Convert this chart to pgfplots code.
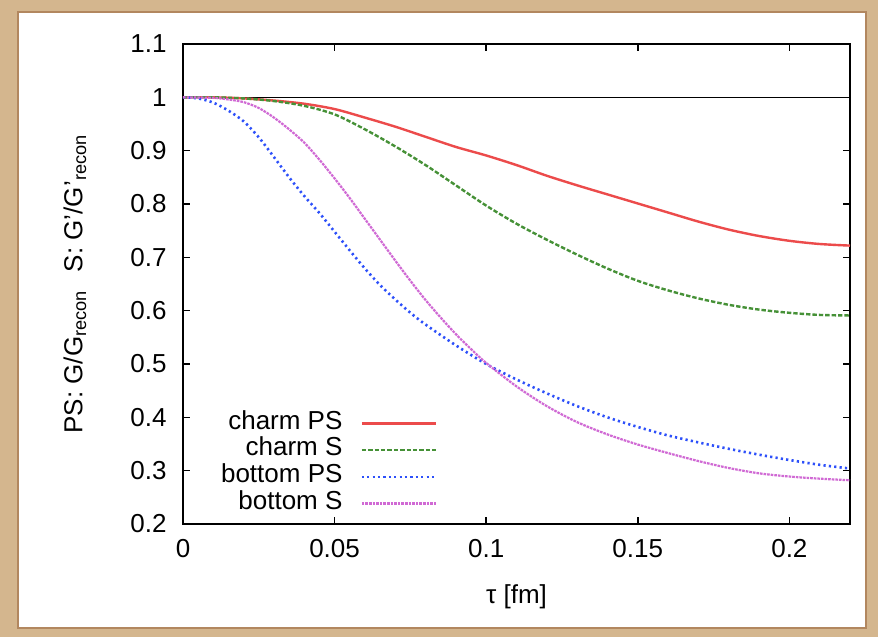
\documentclass[border=0pt]{standalone}
\usepackage{fontspec}
\setmainfont{Liberation Sans}
\usepackage{pgfplots}
\pgfplotsset{compat=1.18}
\definecolor{parch}{RGB}{212,182,142}
\definecolor{parchdark}{RGB}{178,135,95}
\definecolor{cPS}{RGB}{236,75,75}
\definecolor{cS}{RGB}{70,145,55}
\definecolor{bPS}{RGB}{45,80,250}
\definecolor{bS}{RGB}{208,105,212}
\begin{document}
\fontsize{13}{15}\selectfont
\begin{tikzpicture}
% parchment frame (1 px = 0.5pt, axis origin at px (183,524))
\fill[parch] (-91.5pt,-56.5pt) rectangle (347.5pt,262pt);
\fill[white] (-82.5pt,-52pt) rectangle (341.5pt,256pt);
\draw[parchdark,line width=1.2pt] (-82.5pt,-52pt) rectangle (341.5pt,256pt);
\begin{axis}[
  at={(0,0)}, anchor=south west,
  scale only axis,
  width=333.5pt, height=240pt,
  xmin=0, xmax=0.22, ymin=0.2, ymax=1.1,
  xtick={0,0.05,0.1,0.15,0.2},
  ytick={0.2,0.3,0.4,0.5,0.6,0.7,0.8,0.9,1,1.1},
  xticklabels={0,0.05,0.1,0.15,0.2},
  yticklabels={0.2,0.3,0.4,0.5,0.6,0.7,0.8,0.9,1,1.1},
  /pgf/number format/assume math mode=true,
  tick align=inside,
  major tick length=3.5pt,
  tick style={black, line width=0.8pt},
  axis line style={black, line width=0.9pt},
  xticklabel style={yshift=-3.2pt, font=\fontsize{13}{15}\selectfont},
  yticklabel style={xshift=-3.7pt, font=\fontsize{13}{15}\selectfont},
  xlabel={τ [fm]},
  ylabel={PS: G/G\textsubscript{recon}\hspace{0.7em}S: G’/G’\textsubscript{recon}},
  xlabel style={at={(axis description cs:0.5,-0.152)}, anchor=center, font=\fontsize{13}{15}\selectfont},
  ylabel style={at={(axis description cs:-0.162,0.5)}, anchor=center, font=\fontsize{13}{15}\selectfont},
  legend plot pos=right,
  legend cell align=right,
  legend image code/.code={\draw[#1] (0pt,0pt) -- (37pt,0pt);},
  legend style={draw=none, fill=none, inner sep=0pt, outer sep=0pt,
    at={(axis cs:0.0838,0.4135)}, anchor=north east,
    font=\fontsize{13}{15}\selectfont,
    nodes={inner sep=1pt, text height=8.5pt, text depth=2.85pt},
    cells={anchor=east},
    row sep=0pt,
    /tikz/every odd column/.append style={column sep=8pt}},
]
\addplot[black, line width=0.8pt, forget plot] coordinates {(0,1) (0.22,1)};
\addplot[cPS, line width=1.2pt, smooth] coordinates {
(0,1.000) (0.01,1.000) (0.02,0.998) (0.03,0.994) (0.04,0.988) (0.05,0.978)
(0.06,0.962) (0.07,0.945) (0.08,0.926) (0.09,0.907) (0.10,0.891) (0.11,0.873)
(0.12,0.853) (0.13,0.835) (0.14,0.818) (0.15,0.801) (0.16,0.784) (0.17,0.767)
(0.18,0.752) (0.19,0.740) (0.20,0.731) (0.21,0.725) (0.22,0.722)};
\addlegendentry{charm PS}
\addplot[cS, line width=1.2pt, dash pattern=on 2.2pt off 1pt, smooth] coordinates {
(0,1.000) (0.01,1.000) (0.02,0.998) (0.03,0.993) (0.04,0.984) (0.05,0.968)
(0.06,0.940) (0.07,0.908) (0.08,0.873) (0.09,0.835) (0.10,0.797) (0.11,0.763)
(0.12,0.733) (0.13,0.705) (0.14,0.679) (0.15,0.656) (0.16,0.638) (0.17,0.623)
(0.18,0.611) (0.19,0.602) (0.20,0.596) (0.21,0.592) (0.22,0.591)};
\addlegendentry{charm S}
\addplot[bPS, line width=1.3pt, dash pattern=on 1.1pt off 1.6pt, smooth] coordinates {
(0,1.000) (0.005,0.998) (0.01,0.990) (0.015,0.975) (0.02,0.955) (0.025,0.925)
(0.03,0.888) (0.035,0.850) (0.04,0.815) (0.045,0.783) (0.05,0.748) (0.055,0.713)
(0.06,0.679) (0.065,0.648) (0.07,0.621) (0.075,0.596) (0.08,0.574) (0.09,0.535)
(0.10,0.500) (0.11,0.471) (0.12,0.445) (0.13,0.421) (0.14,0.400) (0.15,0.382)
(0.16,0.366) (0.17,0.353) (0.18,0.341) (0.19,0.330) (0.20,0.320) (0.21,0.311)
(0.22,0.304)};
\addlegendentry{bottom PS}
\addplot[bS, line width=1.1pt, dash pattern=on 1.3pt off 0.5pt, smooth] coordinates {
(0,1.000) (0.01,0.999) (0.015,0.996) (0.02,0.991) (0.025,0.980) (0.03,0.962)
(0.035,0.940) (0.04,0.915) (0.045,0.883) (0.05,0.848) (0.055,0.811) (0.06,0.772)
(0.065,0.733) (0.07,0.694) (0.075,0.656) (0.08,0.620) (0.085,0.587) (0.09,0.556)
(0.095,0.528) (0.10,0.502) (0.11,0.458) (0.12,0.421) (0.13,0.391) (0.14,0.368)
(0.15,0.349) (0.16,0.333) (0.17,0.318) (0.18,0.305) (0.19,0.295) (0.20,0.289)
(0.21,0.285) (0.22,0.282)};
\addlegendentry{bottom S}
\end{axis}
\end{tikzpicture}
\end{document}
